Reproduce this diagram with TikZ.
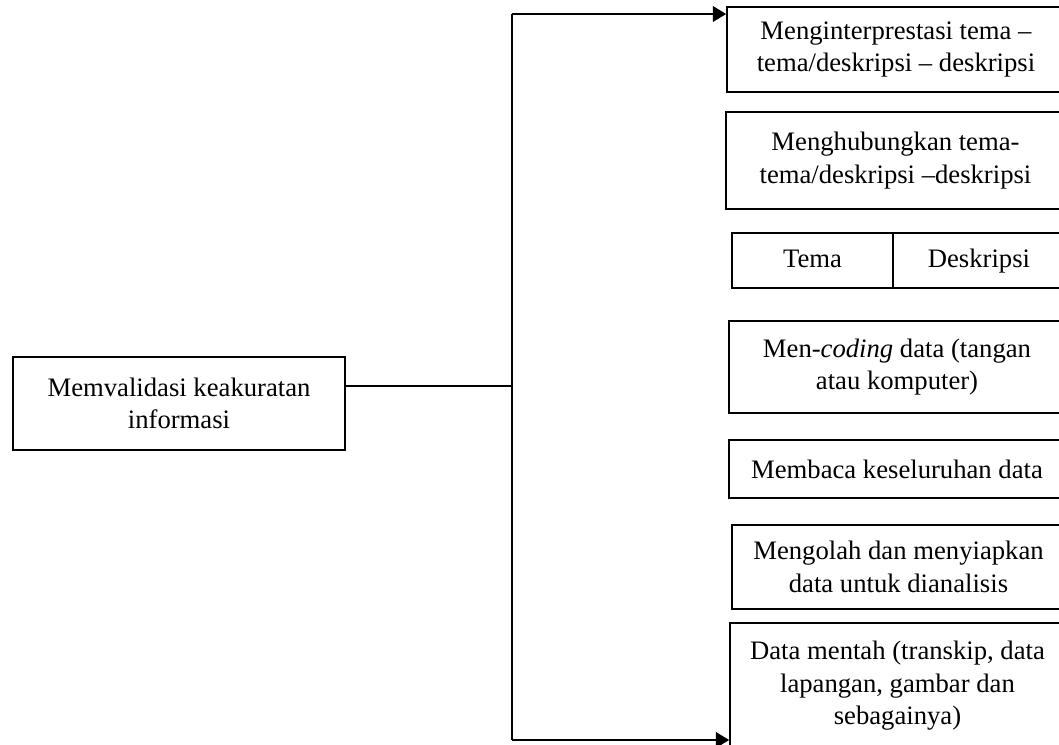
\documentclass[tikz,border=0pt]{standalone}
\usepackage{fontspec}
\setmainfont{Liberation Serif}
\usetikzlibrary{arrows.meta}
\tikzset{
  box/.style={draw=black, line width=0.7pt, rectangle, inner sep=0pt, align=center,
    font=\fontsize{12}{14.6}\selectfont},
  conn/.style={draw=black, line width=0.9pt},
  arr/.style={conn, -{Triangle[length=6pt,width=7pt]}}
}
\begin{document}
\begin{tikzpicture}[x=0.45pt,y=-0.45pt]
\clip (0,0) rectangle (1059,744);
\fill[white] (0,0) rectangle (1059,744);
\node[box, minimum width=149.4pt, minimum height=41.85pt] (left) at (179,403.5) {Memvalidasi keakuratan\\informasi};
\node[box, minimum width=152.1pt, minimum height=38.25pt] (b1) at (896,49.5) {Menginterprestasi tema –\\tema/deskripsi – deskripsi};
\node[box, minimum width=152.55pt, minimum height=43.65pt] (b2) at (895.5,160.5) {Menghubungkan tema-\\tema/deskripsi –deskripsi};
\node[box, text height=8.5pt, text depth=2.5pt, minimum width=72.45pt, minimum height=24.75pt] (tema) at (812.5,260.5) {Tema};
\node[box, text height=8.5pt, text depth=2.5pt, minimum width=77.4pt, minimum height=24.75pt] (desk) at (979,260.5) {Deskripsi};
\node[box, minimum width=151.2pt, minimum height=41.4pt] (b4) at (897,367) {Men-\textit{coding} data (tangan\\atau komputer)};
\node[box, minimum width=151.2pt, minimum height=26.1pt] (b5) at (897,469) {Membaca keseluruhan data};
\node[box, minimum width=149.85pt, minimum height=37.8pt] (b6) at (898.5,567) {Mengolah dan menyiapkan\\data untuk dianalisis};
\node[box, minimum width=150.75pt, minimum height=56.7pt] (b7) at (897.5,686) {Data mentah (transkip, data\\lapangan, gambar dan\\sebagainya)};
\coordinate (top) at (512,14);
\coordinate (bot) at (512,740);
\coordinate (j) at (512,386);
\draw[conn] (left.east |- j) -- (j);
\draw[conn] (top) -- (bot);
\draw[arr] (top) -- (b1.west |- top);
\draw[arr] (bot) -- (b7.west |- bot);
\end{tikzpicture}
\end{document}
